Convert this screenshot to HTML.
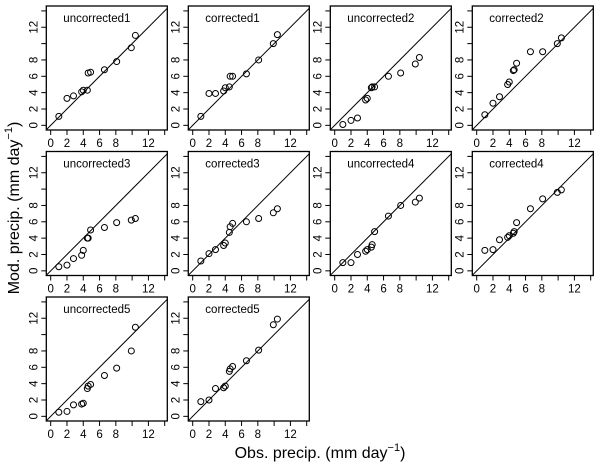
<!DOCTYPE html>
<html><head><meta charset="utf-8"><style>
body{margin:0;background:#fff;}
svg{display:block;font-family:"Liberation Sans",sans-serif;}
</style></head><body>
<svg id="chart" width="600" height="468"></svg>
<script>
const panelNames = ["uncorrected1","corrected1","uncorrected2","corrected2","uncorrected3","corrected3","uncorrected4","corrected4","uncorrected5","corrected5"];
const obsValues = [1.0,2.0,2.8,3.8,4.0,4.5,4.6,4.9,6.6,8.1,9.9,10.4];
const unc1 = [1.1,3.3,3.6,4.1,4.3,4.3,6.4,6.5,6.8,7.8,9.5,11.0];
const cor1 = [1.1,3.9,3.9,4.2,4.6,4.7,6.0,6.0,6.3,8.0,10.0,11.1];
const unc2 = [0.1,0.6,0.9,3.1,3.3,4.6,4.7,4.7,6.0,6.4,7.5,8.3];
const cor2 = [1.3,2.7,3.5,5.0,5.3,6.7,6.8,7.6,9.0,9.0,10.0,10.7];
const unc3 = [0.5,0.7,1.5,1.9,2.5,4.0,4.0,5.0,5.3,5.9,6.2,6.4];
const cor3 = [1.2,2.1,2.6,3.1,3.4,4.7,5.4,5.8,6.0,6.4,7.1,7.6];
const unc4 = [1.0,1.0,2.0,2.4,2.6,2.9,3.2,4.8,6.7,8.0,8.4,8.9];
const cor4 = [2.5,2.6,3.8,4.1,4.3,4.6,4.8,5.9,7.6,8.8,9.6,9.9];
const unc5 = [0.5,0.6,1.4,1.5,1.6,3.4,3.7,3.9,5.0,5.9,8.0,10.9];
const cor5 = [1.8,2.0,3.4,3.5,3.7,5.5,5.8,6.1,6.8,8.1,11.2,11.9];
const modSeries = [unc1,cor1,unc2,cor2,unc3,cor3,unc4,cor4,unc5,cor5];
const tickValues = [0,2,4,6,8,10,12,14];
const tickLabels = ["0","2","4","6","8","","12",""];

const NS="http://www.w3.org/2000/svg";
const svg=document.getElementById('chart');
function mk(tag,attrs,parent){const e=document.createElementNS(NS,tag);for(const k in attrs)e.setAttribute(k,attrs[k]);(parent||svg).appendChild(e);return e;}
const W=121,H=124,XMIN=-0.54,XMAX=14.32,YMIN=-0.57,YMAX=14.6;
panelNames.forEach((name,i)=>{
  const c=i%4,r=Math.floor(i/4);
  const L=46.3+142*c,T=6+145.5*r;
  const sx=v=>L+(v-XMIN)/(XMAX-XMIN)*W;
  const sy=v=>T+H-(v-YMIN)/(YMAX-YMIN)*H;
  const g=mk('g',{});
  
  
  const cp=mk('clipPath',{id:'cp'+i},g);
  mk('rect',{x:L,y:T,width:W,height:H},cp);
  const ln=mk('line',{x1:sx(-1),y1:sy(-1),x2:sx(16),y2:sy(16),stroke:'#000','stroke-width':1,'clip-path':'url(#cp'+i+')'},g);
  
  
  const box=mk('rect',{x:L,y:T,width:W,height:H,fill:'none',stroke:'#000','stroke-width':1.3},g);
  
  
  const t=mk('text',{x:L+17,y:T+16,'font-size':11.5},g);
  t.textContent=name;
  
  
  tickValues.forEach((v,k)=>{
    const x=sx(v),y=sy(v);
    mk('line',{x1:x,y1:T+H,x2:x,y2:T+H+5,stroke:'#000'},g);
    mk('line',{x1:L,y1:y,x2:L-5,y2:y,stroke:'#000'},g);
    if(tickLabels[k]){
      const xl=mk('text',{x:x,y:T+H+17,'font-size':11.5,'text-anchor':'middle'},g);
      xl.textContent=tickLabels[k];
      
      
      const yl=mk('text',{x:L-9,y:y,'font-size':11.5,'text-anchor':'middle',transform:'rotate(-90 '+(L-9)+' '+y+')'},g);
      yl.textContent=tickLabels[k];
      
      
    }
  });
  modSeries[i].forEach((m,k)=>{
    const p=mk('circle',{cx:sx(obsValues[k]),cy:sy(m),r:3,fill:'none',stroke:'#000','stroke-width':1},g);
    
    
  });
});
const xt=mk('text',{x:320,y:458,'font-size':16,'text-anchor':'middle'});
xt.innerHTML='Obs. precip. (mm day<tspan dy="-7" font-size="11">−1</tspan><tspan dy="7">)</tspan>';


const yt=mk('text',{x:19,y:208,'font-size':16,'text-anchor':'middle',transform:'rotate(-90 19 208)'});
yt.innerHTML='Mod. precip. (mm day<tspan dy="-7" font-size="11">−1</tspan><tspan dy="7">)</tspan>';


</script>
</body></html>
